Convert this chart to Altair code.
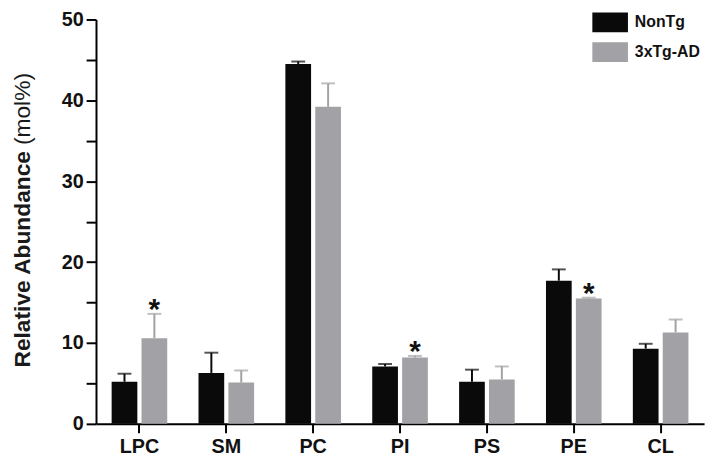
import altair as alt
import pandas as pd

categories = ["LPC", "SM", "PC", "PI", "PS", "PE", "CL"]
groups = ["NonTg", "3xTg-AD"]
nontg_mean = [5.2, 6.3, 44.5, 7.1, 5.2, 17.7, 9.3]
nontg_err = [1.0, 2.5, 0.3, 0.3, 1.5, 1.4, 0.6]
tg_mean = [10.6, 5.1, 39.2, 8.2, 5.5, 15.5, 11.3]
tg_err = [3.0, 1.5, 2.9, 0.2, 1.6, 0.1, 1.6]
tg_sig = [True, False, False, True, False, True, False]

rows = []
for i, c in enumerate(categories):
    rows.append({"cat": c, "group": groups[0], "mean": nontg_mean[i],
                 "upper": nontg_mean[i] + nontg_err[i], "sig": False})
    rows.append({"cat": c, "group": groups[1], "mean": tg_mean[i],
                 "upper": tg_mean[i] + tg_err[i], "sig": tg_sig[i]})
df = pd.DataFrame(rows)

FONT = "Liberation Sans"
colors = ["#0a0a0a", "#a2a2a6"]

xenc = alt.X("cat:N", sort=categories,
             scale=alt.Scale(paddingInner=0.36, paddingOuter=0.18),
             axis=alt.Axis(title=None, labelAngle=0, labelFontSize=20,
                           labelFontWeight="bold", tickSize=9, labelPadding=4,
                           labelFont=FONT, labelColor="#111111"))
xoff = alt.XOffset("group:N", sort=groups, scale=alt.Scale(paddingInner=0.14))
yscale = alt.Scale(domain=[0, 50], nice=False)
yaxis = alt.Axis(title=None, values=list(range(0, 55, 5)),
                 labelExpr="datum.value % 10 === 0 ? datum.label : ''",
                 labelFontSize=20, labelFontWeight="bold", tickSize=10,
                 labelPadding=3, labelFont=FONT, labelColor="#111111")
color = alt.Color("group:N", sort=groups,
                  scale=alt.Scale(domain=groups, range=colors),
                  legend=alt.Legend(orient="none", legendX=510, legendY=-7,
                                    title=None, padding=0,
                                    symbolType="M-1.8,-1H1.8V1H-1.8Z",
                                    symbolSize=400, symbolStrokeWidth=0,
                                    labelFontSize=16, labelFontWeight="bold",
                                    labelFont=FONT, labelColor="#111111",
                                    labelOffset=15, rowPadding=10))

base = alt.Chart(df)

bars = base.mark_bar().encode(
    x=xenc, xOffset=xoff,
    y=alt.Y("mean:Q", scale=yscale, axis=yaxis),
    color=color)

rules = base.mark_rule(strokeWidth=2).encode(
    x=xenc, xOffset=xoff,
    y=alt.Y("mean:Q", scale=yscale),
    y2="upper:Q",
    color=alt.Color("group:N", sort=groups,
                    scale=alt.Scale(domain=groups, range=colors), legend=None))

caps = base.mark_tick(size=14, thickness=2).encode(
    x=xenc, xOffset=xoff,
    y=alt.Y("upper:Q", scale=yscale),
    color=alt.Color("group:N", sort=groups,
                    scale=alt.Scale(domain=groups, range=colors), legend=None))

stars = base.transform_filter("datum.sig").mark_text(
    text="*", fontSize=30, fontWeight="bold", font=FONT, color="#111111",
    baseline="alphabetic", dy=5).encode(
    x=xenc, xOffset=xoff,
    y=alt.Y("upper:Q", scale=yscale))

title_df = pd.DataFrame({"a": [1]})
t1 = alt.Chart(title_df).mark_text(
    text="Relative Abundance", angle=270, align="left", baseline="alphabetic",
    fontSize=23, fontWeight="bold", font=FONT, color="#1a1a1a").encode(
    x=alt.value(-67), y=alt.value(352))
t2 = alt.Chart(title_df).mark_text(
    text="(mol%)", angle=270, align="left", baseline="alphabetic",
    fontSize=23, fontWeight="normal", font=FONT, color="#1a1a1a").encode(
    x=alt.value(-67), y=alt.value(127))

chart = alt.layer(bars, rules, caps, stars, t1, t2).properties(
    width=615, height=409, autosize="none",
    padding={"left": 89, "top": 9, "right": 7, "bottom": 38},
).configure_view(stroke=None).configure_axis(
    grid=False, domainColor="#000000", domainWidth=2,
    tickColor="#000000", tickWidth=2)

chart.save("out.html", embed_options={"renderer": "svg", "actions": False})
